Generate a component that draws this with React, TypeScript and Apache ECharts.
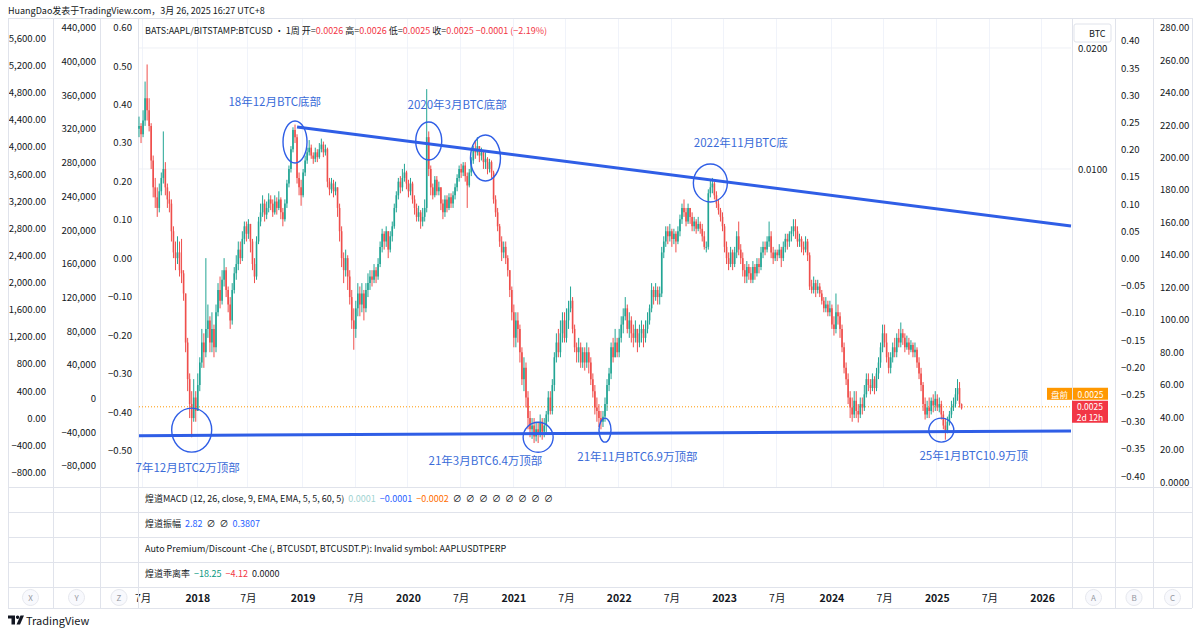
import React, { useEffect, useRef } from "react";
import * as echarts from "echarts";

// ---------- DATA (AAPL/BTC weekly, in units of 0.0001) ----------
const START_WEEK = Date.UTC(2017, 5, 12); // first weekly bar 2017-06-12
const WEEK_COUNT = 461; // bars + empty future space up to the right edge
const FIRST_OPEN = 126;

const closes = [
  128, 122, 132, 150, 140, 128, 105, 90, 85, 80,
  88, 95, 100, 90, 84, 82, 70, 62, 60, 62,
  56, 55, 49, 37, 30, 26, 24, 27, 25, 29,
  33, 37, 35, 40, 42, 37, 40, 36, 44, 50,
  47, 53, 56, 50, 46, 42, 50, 55, 58, 63,
  60, 67, 72, 69, 73, 66, 58, 54, 66, 74,
  78, 82, 77, 80, 84, 82, 78, 83, 80, 84,
  78, 75, 82, 92, 100, 112, 125, 120, 95, 90,
  86, 98, 105, 110, 113, 108, 106, 110, 107, 112,
  115, 110, 112, 93, 89, 92, 88, 90, 80, 70,
  60, 56, 60, 54, 48, 42, 40, 45, 49, 46,
  49, 45, 50, 52, 54, 53, 56, 54, 58, 64,
  69, 66, 70, 63, 68, 72, 80, 86, 93, 90,
  95, 98, 92, 88, 92, 84, 80, 76, 78, 74,
  76, 80, 120, 100, 90, 86, 94, 88, 90, 82,
  78, 84, 80, 85, 82, 86, 90, 95, 100, 98,
  102, 96, 91, 98, 105, 112, 110, 114, 108, 110,
  104, 106, 100, 104, 98, 84, 78, 72, 66, 62,
  64, 60, 56, 50, 44, 38, 42, 40, 35, 30,
  32, 27, 24, 22.5, 23, 21.6, 22.5, 22, 23.5, 22.2,
  23, 24.5, 27, 25, 29, 34, 37, 35, 39, 42,
  38, 42, 45, 47, 40, 36, 35, 36, 33, 35,
  33, 35, 33, 30, 28, 25.5, 25, 24, 23.5, 24.2,
  26, 29, 31, 36, 34, 37, 35, 38, 41, 43,
  45, 40, 42, 39, 38, 40, 37, 39, 40, 38,
  40, 42, 45, 50, 48, 50, 48, 49, 62, 66,
  70, 68, 70, 67, 69, 66, 70, 75, 80, 78,
  74, 80, 76, 72, 74, 71, 73, 71, 68, 64,
  64, 87, 90, 92, 86, 82, 79, 76, 72, 64,
  60, 58, 62, 58, 62, 68, 63, 60, 56, 54,
  57, 55, 53, 57, 55, 58, 57, 62, 64, 63,
  66, 68, 62, 60, 62, 61, 63, 60, 64, 67,
  66, 69, 70, 72, 70, 66, 67, 64, 63, 66,
  61, 51, 50, 52, 50, 51, 49, 47, 45, 46,
  44, 45, 41, 40, 44, 43, 40, 36, 32, 30,
  27, 25.5, 24.5, 26.5, 25, 24.5, 26, 25.5, 27.5, 30,
  29, 28.5, 30, 28.5, 31, 33, 36, 39, 37, 34,
  32, 34, 36, 35, 38, 37, 39, 38, 36, 37,
  35.5, 36.5, 35, 35.5, 33, 31, 29, 26, 24.5, 25.5,
  25, 26.5, 25.8, 26.8, 25.5, 26, 24.5, 23, 22.2, 23.5,
  24.5, 25.5, 26, 27.5, 28.5, 26, 25.4,
];

const highs = [
  135, 130, 140, 165, 182, 150, 130, 108, 95, 90,
  92, 98, 124, 104, 92, 88, 84, 72, 66, 68,
  66, 67, 56, 46, 38, 31, 28, 30, 28, 31,
  34, 40, 39, 60, 46, 43, 44, 41, 46, 52,
  54, 56, 60, 57, 51, 48, 52, 57, 61, 66,
  66, 70, 74, 74, 75, 73, 67, 60, 68, 76,
  82, 86, 84, 83, 87, 86, 84, 86, 85, 88,
  85, 80, 84, 94, 102, 114, 127, 129, 122, 98,
  94, 100, 108, 113, 118, 115, 110, 113, 112, 116,
  119, 117, 115, 113, 95, 95, 94, 93, 90, 82,
  72, 62, 63, 61, 56, 50, 45, 47, 52, 51,
  52, 50, 52, 55, 56, 56, 58, 57, 60, 66,
  71, 70, 72, 70, 70, 74, 82, 88, 95, 96,
  100, 103, 99, 94, 95, 93, 86, 82, 81, 79,
  80, 84, 158, 124, 102, 92, 96, 96, 93, 90,
  84, 86, 86, 87, 87, 88, 92, 97, 102, 103,
  104, 104, 98, 100, 107, 114, 118, 120, 114, 113,
  111, 110, 107, 106, 105, 99, 86, 80, 73, 68,
  66, 66, 61, 56, 51, 46, 44, 44, 41, 36,
  34, 33, 28, 25, 24, 24, 23.5, 23.5, 24.5, 24,
  24, 25, 28, 28, 30, 35, 39, 40, 42, 44,
  44, 45, 47, 51, 48, 41, 37, 38, 37, 36,
  36, 37, 36, 34, 31, 29, 27, 26, 25, 25,
  27, 30, 32, 37, 38, 40, 38, 40, 43, 45,
  48, 46, 44, 43, 41, 42, 40, 41, 42, 41,
  42, 44, 46, 52, 51, 52, 51, 51, 64, 68,
  72, 72, 73, 71, 71, 70, 72, 77, 82, 84,
  80, 82, 80, 78, 76, 75, 76, 74, 73, 70,
  66, 89, 94, 95, 93, 88, 84, 80, 78, 73,
  66, 62, 64, 63, 64, 70, 74, 65, 62, 58,
  59, 58, 57, 59, 58, 60, 60, 64, 66, 66,
  68, 74, 70, 64, 63, 63, 65, 64, 66, 69,
  69, 70, 72, 75, 75, 72, 69, 68, 66, 68,
  67, 62, 53, 54, 53, 53, 52, 50, 48, 48,
  47, 47, 46, 43, 49, 46, 44, 41, 37, 33,
  31, 28, 27, 28, 28, 26, 27, 27, 29, 31,
  31, 30, 31, 30.5, 32, 34, 37, 41, 41, 39,
  35, 35, 37, 38, 39, 40, 41.5, 40, 39, 38.5,
  38, 37.5, 37, 37, 36, 34, 32, 29.5, 27, 26.5,
  27, 27, 27.5, 28, 27.5, 27, 26.5, 25, 24, 24.2,
  25, 26.5, 27, 28.5, 30, 29.5, 26.1,
];

const lows = [
  120, 116, 120, 128, 132, 124, 100, 85, 80, 76,
  78, 86, 92, 86, 80, 78, 66, 60, 56, 58,
  54, 52, 47, 35, 28, 24, 21.5, 23.5, 23.5, 25,
  28, 32, 32, 34, 38, 35, 35, 34, 35, 43,
  45, 46, 51, 48, 44, 40, 41, 49, 53, 56,
  58, 59, 65, 66, 67, 62, 56, 52, 53, 65,
  72, 76, 74, 75, 78, 79, 76, 77, 77, 79,
  75, 72, 74, 80, 90, 98, 110, 116, 92, 86,
  81, 85, 96, 103, 108, 106, 103, 104, 104, 106,
  110, 107, 108, 90, 86, 87, 85, 86, 76, 66,
  57, 52, 54, 50, 46, 40, 35.5, 38, 43, 43,
  44, 42, 44, 48, 50, 51, 52, 52, 53, 57,
  62, 63, 64, 60, 62, 66, 71, 78, 84, 87,
  88, 93, 89, 85, 86, 82, 77, 74, 74, 71,
  72, 74, 78, 96, 86, 84, 85, 86, 86, 79,
  75, 76, 78, 79, 80, 80, 84, 88, 93, 95,
  96, 93, 80, 90, 96, 103, 106, 108, 104, 105,
  100, 100, 97, 98, 95, 82, 76, 70, 64, 59,
  60, 58, 54, 48, 42, 36, 36, 37, 33, 29,
  28, 25.5, 22.5, 21.5, 21.3, 20.8, 21, 20.8, 21.5, 21.2,
  21.5, 22, 23.5, 24.5, 24.5, 28, 33, 34, 34, 37,
  37, 37, 40, 44, 39, 35, 33, 33, 32, 32,
  31.5, 32, 31, 29, 27, 24.5, 23.5, 22.8, 22.5, 22.8,
  23.5, 25, 28, 30, 33, 34, 34, 34, 37, 39,
  42, 39, 38, 37, 36, 37, 35, 36, 37, 36,
  37, 39, 41, 44, 46, 47, 46, 46, 48, 60,
  64, 65, 66, 64, 65, 62, 65, 68, 73, 76,
  72, 73, 73, 70, 70, 69, 70, 69, 66, 63,
  62, 63, 85, 87, 84, 80, 77, 74, 70, 62,
  58, 56, 57, 56, 57, 60, 61, 58, 54, 52,
  52, 53, 52, 52, 53, 54, 55, 56, 60, 61,
  62, 64, 60, 58, 59, 59, 60, 57, 59, 62,
  63, 64, 66, 68, 67, 64, 64, 62, 61, 62,
  59, 50, 49, 49, 48, 49, 48, 46, 44, 44,
  43, 43, 40, 38.5, 39, 41, 38, 35, 31, 29,
  26, 24, 23.5, 24, 24, 23.4, 24, 24.5, 25, 27,
  28, 27.5, 28, 27.5, 28, 30, 32, 35, 36, 33,
  31, 31, 33, 34, 34, 36, 36, 36.5, 35, 35.5,
  34.5, 35, 34, 34, 32, 30, 28, 25, 23.8, 24,
  24, 24.5, 24.8, 25, 25, 24.8, 23.8, 22.5, 21.2, 22,
  23, 24, 25, 25.5, 26.5, 25.5, 25.2,
];

const PREMARKET = 25.6;
const GRID_LEVELS = [100, 200];

// Axis tick labels
const btcTicks = [100, 200];
const leftPriceTicks = [5600, 5200, 4800, 4400, 4000, 3600, 3200, 2800, 2400, 2000, 1600, 1200, 800, 400, 0, -400, -800];
const leftVolTicks = [440000, 400000, 360000, 320000, 280000, 240000, 200000, 160000, 120000, 80000, 40000, 0, -40000, -80000];
const leftOscTicks = [0.6, 0.5, 0.4, 0.3, 0.2, 0.1, 0, -0.1, -0.2, -0.3, -0.4, -0.5];
const rightPctTicks = [0.4, 0.35, 0.3, 0.25, 0.2, 0.15, 0.1, 0.05, 0, -0.05, -0.1, -0.15, -0.2, -0.25, -0.3, -0.35, -0.4];
const rightPriceTicks = [280, 260, 240, 220, 200, 180, 160, 140, 120, 100, 80, 60, 40, 20, 0];

// User drawings (week index, value)
const upperTrend = [[78, 127.2], [460, 72.1]];
const lowerTrend = [[0, 21.7], [460, 22.3]];
const notes = [
  { i: 67, v: 147.6, text: "18年12月BTC底部" },
  { i: 157, v: 145.1, text: "2020年3月BTC底部" },
  { i: 297, v: 116.7, text: "2022年11月BTC底" },
  { i: 24, v: 18.1, text: "7年12月BTC2万顶部" },
  { i: 171, v: 18.9, text: "21年3月BTC6.4万顶部" },
  { i: 246, v: 19.3, text: "21年11月BTC6.9万顶部" },
  { i: 412, v: 19.4, text: "25年1月BTC10.9万顶" },
];
const rings = [
  { i: 77, v: 116.7, rx: 12, ry: 21 },
  { i: 143, v: 117.4, rx: 13, ry: 19 },
  { i: 171, v: 106.5, rx: 15, ry: 23 },
  { i: 282, v: 92.3, rx: 17, ry: 19 },
  { i: 26, v: 22.4, rx: 20, ry: 22 },
  { i: 197, v: 21.5, rx: 15, ry: 15 },
  { i: 230, v: 22.4, rx: 6, ry: 12 },
  { i: 396, v: 22.4, rx: 12.5, ry: 12 },
];

// ---------- STYLE ----------
const FONT = '"Noto Sans CJK SC", "Noto Sans", sans-serif';
const TXT = "#131722";
const UP = "#22a594";
const DOWN = "#ef4f4c";
const BLUE = "#2f5ee6";
const NOTE = "#3a6bd8";
const LINE = "#e0e3eb";
const MINUS = "\u2212";
const AX_FS = 9.6;
const UI_FS = 9;

const weekDates: string[] = Array.from({ length: WEEK_COUNT }, (_, k) =>
  new Date(START_WEEK + k * 7 * 86400000).toISOString().slice(0, 10)
);

function labelKind(val: string): { year: boolean; text: string } | null {
  const t = Date.parse(val + "T00:00:00Z");
  for (let k = 0; k < 7; k++) {
    const d = new Date(t + k * 86400000);
    if (d.getUTCDate() === 1 && d.getUTCMonth() === 0) return { year: true, text: String(d.getUTCFullYear()) };
    if (d.getUTCDate() === 1 && d.getUTCMonth() === 6) return { year: false, text: "7月" };
  }
  return null;
}

const sign = (v: number, s: string) => (v < 0 ? MINUS : "") + s;

function labelAxis(position: string, offset: number, min: number, max: number, ticks: number[], fmt: (v: number) => string, margin: number) {
  return {
    type: "value",
    gridIndex: 0,
    position,
    offset,
    min,
    max,
    axisLine: { show: false },
    axisTick: { show: false },
    splitLine: { show: false },
    axisLabel: { customValues: ticks, formatter: fmt, margin, color: TXT, fontSize: AX_FS, fontFamily: FONT },
  };
}

function flatLine(v: number, color: string, type: any, z: number) {
  return {
    type: "line",
    xAxisIndex: 0,
    yAxisIndex: 0,
    data: [[0, v], [WEEK_COUNT - 1, v]],
    symbol: "none",
    silent: true,
    lineStyle: { color, width: 1, type },
    z,
  };
}

function renderCandle(_params: any, api: any) {
  const i = api.value(0);
  const o = api.value(1);
  const c = api.value(2);
  const l = api.value(3);
  const h = api.value(4);
  const x = api.coord([i, o])[0];
  const yo = api.coord([i, o])[1];
  const yc = api.coord([i, c])[1];
  const yl = api.coord([i, l])[1];
  const yh = api.coord([i, h])[1];
  const col = c >= o ? UP : DOWN;
  const top = Math.min(yo, yc);
  const hgt = Math.max(Math.abs(yc - yo), 1);
  return {
    type: "group",
    children: [
      { type: "line", shape: { x1: x, y1: yh, x2: x, y2: yl }, style: { stroke: col, lineWidth: 1 } },
      { type: "rect", shape: { x: x - 0.8, y: top, width: 1.6, height: hgt }, style: { fill: col } },
    ],
  };
}

function buildOption() {
  const ohlc = closes.map((c, i) => {
    const o = i === 0 ? FIRST_OPEN : closes[i - 1];
    return [i, o, c, Math.min(lows[i], o, c), Math.max(highs[i], o, c)];
  });
  return {
    animation: false,
    backgroundColor: "#ffffff",
    grid: [{ left: 138, top: 18, width: 934, height: 469 }],
    xAxis: [
      {
        type: "category",
        gridIndex: 0,
        data: weekDates,
        boundaryGap: true,
        axisLine: { show: false },
        axisTick: { show: false },
        splitLine: { show: true, interval: (_i: number, v: string) => !!labelKind(v), lineStyle: { color: "#f0f3fa", width: 1 } },
        axisLabel: {
          interval: (_i: number, v: string) => !!labelKind(v),
          formatter: (v: string) => {
            const k = labelKind(v);
            if (!k) return "";
            return k.year ? `{y|${k.text}}` : `{m|${k.text}}`;
          },
          margin: 105,
          rich: {
            y: { fontWeight: "bold", fontSize: 10.5, color: TXT, fontFamily: FONT },
            m: { fontSize: 10.5, color: TXT, fontFamily: FONT },
          },
        },
      },
    ],
    yAxis: [
      {
        type: "log",
        logBase: 2,
        gridIndex: 0,
        position: "right",
        min: 16.17,
        max: 237.5,
        axisLine: { show: false },
        axisTick: { show: false },
        splitLine: { show: false },
        axisLabel: {
          customValues: btcTicks,
          formatter: (v: number) => (v / 10000).toFixed(4),
          margin: 6,
          color: TXT,
          fontSize: AX_FS,
          fontFamily: FONT,
        },
      },
      labelAxis("left", 84, -1021.2, 5894.9, leftPriceTicks,
        (v) => sign(v, Math.abs(v).toLocaleString("en-US", { minimumFractionDigits: 2, maximumFractionDigits: 2 })), 8),
      labelAxis("left", 38, -105638, 451039, leftVolTicks,
        (v) => sign(v, Math.abs(v).toLocaleString("en-US")), 4),
      labelAxis("left", 0, -0.5961, 0.6237, leftOscTicks, (v) => sign(v, Math.abs(v).toFixed(2)), 6),
      labelAxis("right", 43, -0.42096, 0.44118, rightPctTicks, (v) => sign(v, Math.abs(v).toFixed(2)), 6),
      labelAxis("right", 81, -3.08, 285.54, rightPriceTicks, (v) => (v === 0 ? "0.0000" : v.toFixed(2)), 7),
    ],
    series: [
      ...GRID_LEVELS.map((v) => flatLine(v, "#eef0f5", "solid", 1)),
      flatLine(PREMARKET, "#ff9800", [1, 2], 2),
      {
        type: "custom",
        xAxisIndex: 0,
        yAxisIndex: 0,
        data: ohlc,
        encode: { x: 0, y: [1, 2, 3, 4] },
        renderItem: renderCandle,
        silent: true,
        clip: true,
        z: 3,
      },
      {
        type: "line",
        xAxisIndex: 0,
        yAxisIndex: 0,
        data: upperTrend,
        symbol: "none",
        silent: true,
        lineStyle: { color: BLUE, width: 3 },
        z: 5,
      },
      {
        type: "line",
        xAxisIndex: 0,
        yAxisIndex: 0,
        data: lowerTrend,
        symbol: "none",
        silent: true,
        lineStyle: { color: BLUE, width: 3 },
        z: 5,
      },
    ],
  };
}

function txt(x: number, y: number, text: string, opts: any = {}) {
  const size = opts.size || UI_FS;
  const font = `${opts.weight || "normal"} ${size}px ${FONT}`;
  return {
    type: "text",
    x,
    y,
    silent: true,
    z: opts.z || 20,
    style: {
      text,
      fill: opts.color || TXT,
      font,
      align: opts.align || "left",
      textAlign: opts.align || "left",
      verticalAlign: "middle",
      textVerticalAlign: "middle",
      rich: opts.rich,
    },
  };
}

function richStyles(map: Record<string, string>, size = UI_FS) {
  const out: any = {};
  Object.keys(map).forEach((k) => {
    out[k] = { fill: map[k], color: map[k], font: `${size}px ${FONT}`, fontSize: size, fontFamily: FONT };
  });
  return out;
}

function buildGraphics(px: (i: number, v: number) => number[]) {
  const els: any[] = [];
  // frame
  [18, 487, 512, 537, 562, 587, 608].forEach((y) =>
    els.push({ type: "line", silent: true, z: 1, shape: { x1: 8, y1: y + 0.5, x2: 1192, y2: y + 0.5 }, style: { stroke: LINE, lineWidth: 1 } })
  );
  [8, 53, 100, 138, 1072, 1115, 1153, 1192].forEach((x) =>
    els.push({ type: "line", silent: true, z: 1, shape: { x1: x + 0.5, y1: 18, x2: x + 0.5, y2: 608 }, style: { stroke: LINE, lineWidth: 1 } })
  );
  // headers
  els.push(txt(8, 10, "HuangDao发表于TradingView.com，3月 26, 2025 16:27 UTC+8"));
  els.push(
    txt(145, 30, `BATS:AAPL/BITSTAMP:BTCUSD · 1周 开={r|0.0026} 高={r|0.0026} 低={r|0.0025} 收={r|0.0025} {r|${MINUS}0.0001 (${MINUS}2.19%)}`, {
      rich: richStyles({ r: "#f23645" }),
    })
  );
  // indicator rows
  els.push(
    txt(145, 498, `煌道MACD (12, 26, close, 9, EMA, EMA, 5, 5, 60, 5)  {c|0.0001}  {b|${MINUS}0.0001}  {o|${MINUS}0.0002}  ∅  ∅  ∅  ∅  ∅  ∅  ∅  ∅`, {
      rich: richStyles({ c: "#9fd3d2", b: "#2962ff", o: "#ff6d00" }),
    })
  );
  els.push(txt(145, 523.5, "煌道振幅  {b|2.82}  ∅  ∅  {b|0.3807}", { rich: richStyles({ b: "#2962ff" }) }));
  els.push(txt(145, 548.5, "Auto Premium/Discount -Che (, BTCUSDT, BTCUSDT.P): Invalid symbol: AAPLUSDTPERP"));
  els.push(
    txt(145, 573.5, `煌道乖离率  {g|${MINUS}18.25}  {r|${MINUS}4.12}  0.0000`, { rich: richStyles({ g: "#089981", r: "#f23645" }) })
  );
  // bottom axis buttons
  ([["X", 30.5], ["Y", 76.5], ["Z", 119], ["A", 1093.5], ["B", 1134], ["C", 1172.5]] as [string, number][]).forEach(([t, x]) => {
    els.push({ type: "circle", silent: true, z: 10, shape: { cx: x, cy: 597.5, r: 8 }, style: { fill: "#f8f9fd", stroke: "#e6e8ee", lineWidth: 1 } });
    els.push(txt(x, 597.5, t, { size: 8, color: "#9598a1", align: "center" }));
  });
  // TradingView logo
  els.push({ type: "polygon", silent: true, z: 10, shape: { points: [[8, 615.5], [15, 615.5], [15, 624.5], [11.5, 624.5], [11.5, 618.5], [8, 618.5]] }, style: { fill: TXT } });
  els.push({ type: "circle", silent: true, z: 10, shape: { cx: 17.6, cy: 617.2, r: 1.7 }, style: { fill: TXT } });
  els.push({ type: "polygon", silent: true, z: 10, shape: { points: [[20.5, 615.5], [24, 615.5], [20, 624.5], [16.5, 624.5]] }, style: { fill: TXT } });
  els.push(txt(26, 620, "TradingView", { size: 11 }));
  // BTC box
  els.push({ type: "rect", silent: true, z: 10, shape: { x: 1074, y: 24, width: 37, height: 18, r: 2 }, style: { fill: "#ffffff", stroke: LINE, lineWidth: 1 } });
  els.push(txt(1089, 33, "BTC", { size: 9 }));
  // price boxes
  const yPre = px(0, PREMARKET)[1];
  els.push({ type: "rect", silent: true, z: 10, shape: { x: 1047, y: yPre - 19, width: 25, height: 12 }, style: { fill: "#ff9800" } });
  els.push(txt(1059.5, yPre - 13, "盘前", { size: 8.5, color: "#ffffff", align: "center" }));
  els.push({ type: "rect", silent: true, z: 10, shape: { x: 1073, y: yPre - 19, width: 35, height: 12 }, style: { fill: "#ff9800" } });
  els.push(txt(1090.5, yPre - 13, "0.0025", { size: 8.5, color: "#ffffff", align: "center" }));
  els.push({ type: "rect", silent: true, z: 10, shape: { x: 1072, y: yPre - 6, width: 36, height: 22 }, style: { fill: "#f23645" } });
  els.push(txt(1090, yPre - 0.5, "0.0025", { size: 8.5, color: "#ffffff", align: "center" }));
  els.push(txt(1090, yPre + 10.5, "2d 12h", { size: 8.5, color: "#ffffff", align: "center" }));
  // hand-drawn rings
  rings.forEach((r) => {
    const [cx, cy] = px(r.i, r.v);
    els.push({ type: "ellipse", silent: true, z: 30, shape: { cx, cy, rx: r.rx, ry: r.ry }, style: { fill: null, stroke: BLUE, lineWidth: 1.4 } });
  });
  // notes
  notes.forEach((n) => {
    const [x, y] = px(n.i, n.v);
    els.push(txt(x, y, n.text, { size: 11.5, color: NOTE, align: "center", z: 30 }));
  });
  return els;
}

export default function App() {
  const ref = useRef<HTMLDivElement>(null);
  useEffect(() => {
    const el = ref.current as HTMLDivElement;
    const chart = echarts.init(el, null, { renderer: "svg" });
    chart.setOption(buildOption() as any);
    const px = (i: number, v: number) => chart.convertToPixel({ xAxisIndex: 0, yAxisIndex: 0 } as any, [i, v]) as number[];
    chart.setOption({ graphic: { elements: buildGraphics(px) } } as any);
    return () => chart.dispose();
  }, []);
  return (
    <div
      ref={ref}
      style={{ position: "fixed", left: 0, top: 0, width: 1199, height: 634, background: "#ffffff" }}
    />
  );
}
